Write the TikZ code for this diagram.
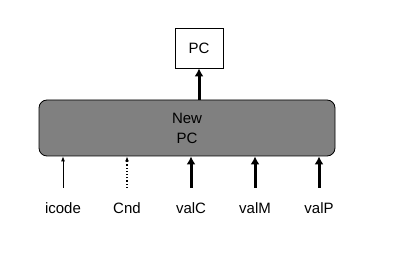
\documentclass[tikz,border=0pt]{standalone}
\usepackage{fontspec}
\setmainfont{Liberation Sans}
\usetikzlibrary{arrows.meta}
\begin{document}
\begin{tikzpicture}[x=1pt,y=1pt,thick,
  font=\fontsize{15}{20}\selectfont,
  bus/.style={line width=3pt,-{Latex[length=8pt,width=9pt]}},
  wire/.style={line width=0.8pt,-{Latex[length=5pt,width=4pt]}},
  cond/.style={line width=1.2pt,dotted,-{Latex[length=5pt,width=4pt]}}]
\useasboundingbox (0,0) rectangle (395,256);
\definecolor{blockgray}{RGB}{128,128,128}
% register and the next-PC logic
\node[draw,line width=0.8pt,minimum width=48,minimum height=40] (pc) at (199,208) {PC};
\node[draw,line width=0.8pt,fill=blockgray,rounded corners=8,
      minimum width=296,minimum height=56,align=center] (newpc) at (187,128) {New\\PC};
\draw[bus] (newpc.north -| pc) -- (pc.south);
% inputs along the bottom
\foreach \x/\name/\sty in {63/icode/wire,127/Cnd/cond,191/valC/bus,255/valM/bus,319/valP/bus}{
  \node (\name) at (\x,48) {\name};
  \coordinate (\name-in) at (\x,68);
  \draw[\sty] (\name-in) -- (\name-in |- newpc.south);
}
\end{tikzpicture}
\end{document}
